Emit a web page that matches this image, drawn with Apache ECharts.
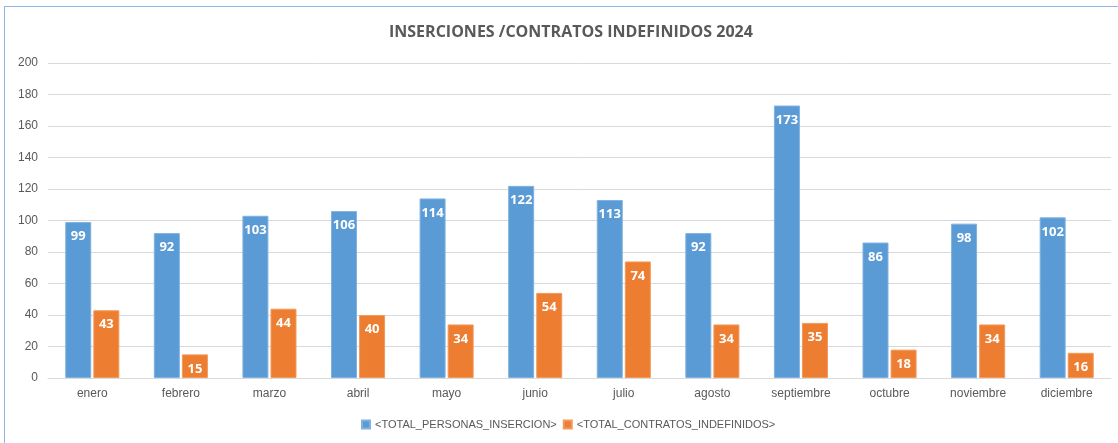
<!DOCTYPE html>
<html>
<head>
<meta charset="utf-8">
<script src="https://cdn.jsdelivr.net/npm/echarts@6/dist/echarts.min.js"></script>
<style>
  html, body { margin: 0; padding: 0; background: #fff; }
  #frame { position: absolute; left: 4px; top: 6px; width: 1200px; height: 500px;
           border-left: 1px solid #8db8e6; border-top: 1px solid #8db8e6; }
  #chart { position: absolute; left: 0; top: 0; width: 1118px; height: 443px; }
</style>
</head>
<body>
<div id="frame"></div>
<div id="chart"></div>
<script>
// datos del grafico
const meses = ['enero', 'febrero', 'marzo', 'abril', 'mayo', 'junio', 'julio', 'agosto', 'septiembre', 'octubre', 'noviembre', 'diciembre'];
const insercion = [99, 92, 103, 106, 114, 122, 113, 92, 173, 86, 98, 102];
const indefinidos = [43, 15, 44, 40, 34, 54, 74, 34, 35, 18, 34, 16];

const chart = echarts.init(document.getElementById('chart'));

const etiqueta = {
    show: true,
    position: 'insideTop',
    distance: 8,
    color: '#fff',
    fontWeight: 'bold',
    fontSize: 13,
    fontFamily: 'Open Sans'
};

const option = {
    animation: false,
    textStyle: { fontFamily: 'Liberation Sans' },
    title: {
        text: 'INSERCIONES /CONTRATOS INDEFINIDOS 2024',
        left: 384,
        top: 19,
        textStyle: { color: '#595959', fontSize: 16, fontWeight: 'bold', fontFamily: 'Open Sans' }
    },
    legend: {
        bottom: 8,
        left: 356,
        itemWidth: 8,
        itemHeight: 8,
        itemGap: 6,
        icon: 'rect',
        textStyle: { color: '#595959', fontSize: 11 },
        data: ['<TOTAL_PERSONAS_INSERCION>', '<TOTAL_CONTRATOS_INDEFINIDOS>']
    },
    grid: { left: 48, right: 7, top: 63, bottom: 65 },
    xAxis: {
        type: 'category',
        data: meses,
        axisTick: { show: false },
        axisLine: { lineStyle: { color: '#d9d9d9' } },
        axisLabel: { color: '#595959', fontSize: 12, margin: 10 }
    },
    yAxis: {
        type: 'value',
        min: 0,
        max: 200,
        interval: 20,
        axisLabel: { color: '#595959', fontSize: 12, margin: 10 },
        splitLine: { lineStyle: { color: '#d9d9d9' } }
    },
    series: [
        {
            name: '<TOTAL_PERSONAS_INSERCION>',
            type: 'bar',
            data: insercion,
            barWidth: 26,
            barGap: '8%',
            itemStyle: { color: '#5b9bd5', borderColor: '#7fb2e0', borderWidth: 1 },
            label: etiqueta
        },
        {
            name: '<TOTAL_CONTRATOS_INDEFINIDOS>',
            type: 'bar',
            data: indefinidos,
            barWidth: 26,
            itemStyle: { color: '#ed7d31', borderColor: '#f39a5c', borderWidth: 1 },
            label: etiqueta
        }
    ]
};

chart.setOption(option);
</script>
</body>
</html>
